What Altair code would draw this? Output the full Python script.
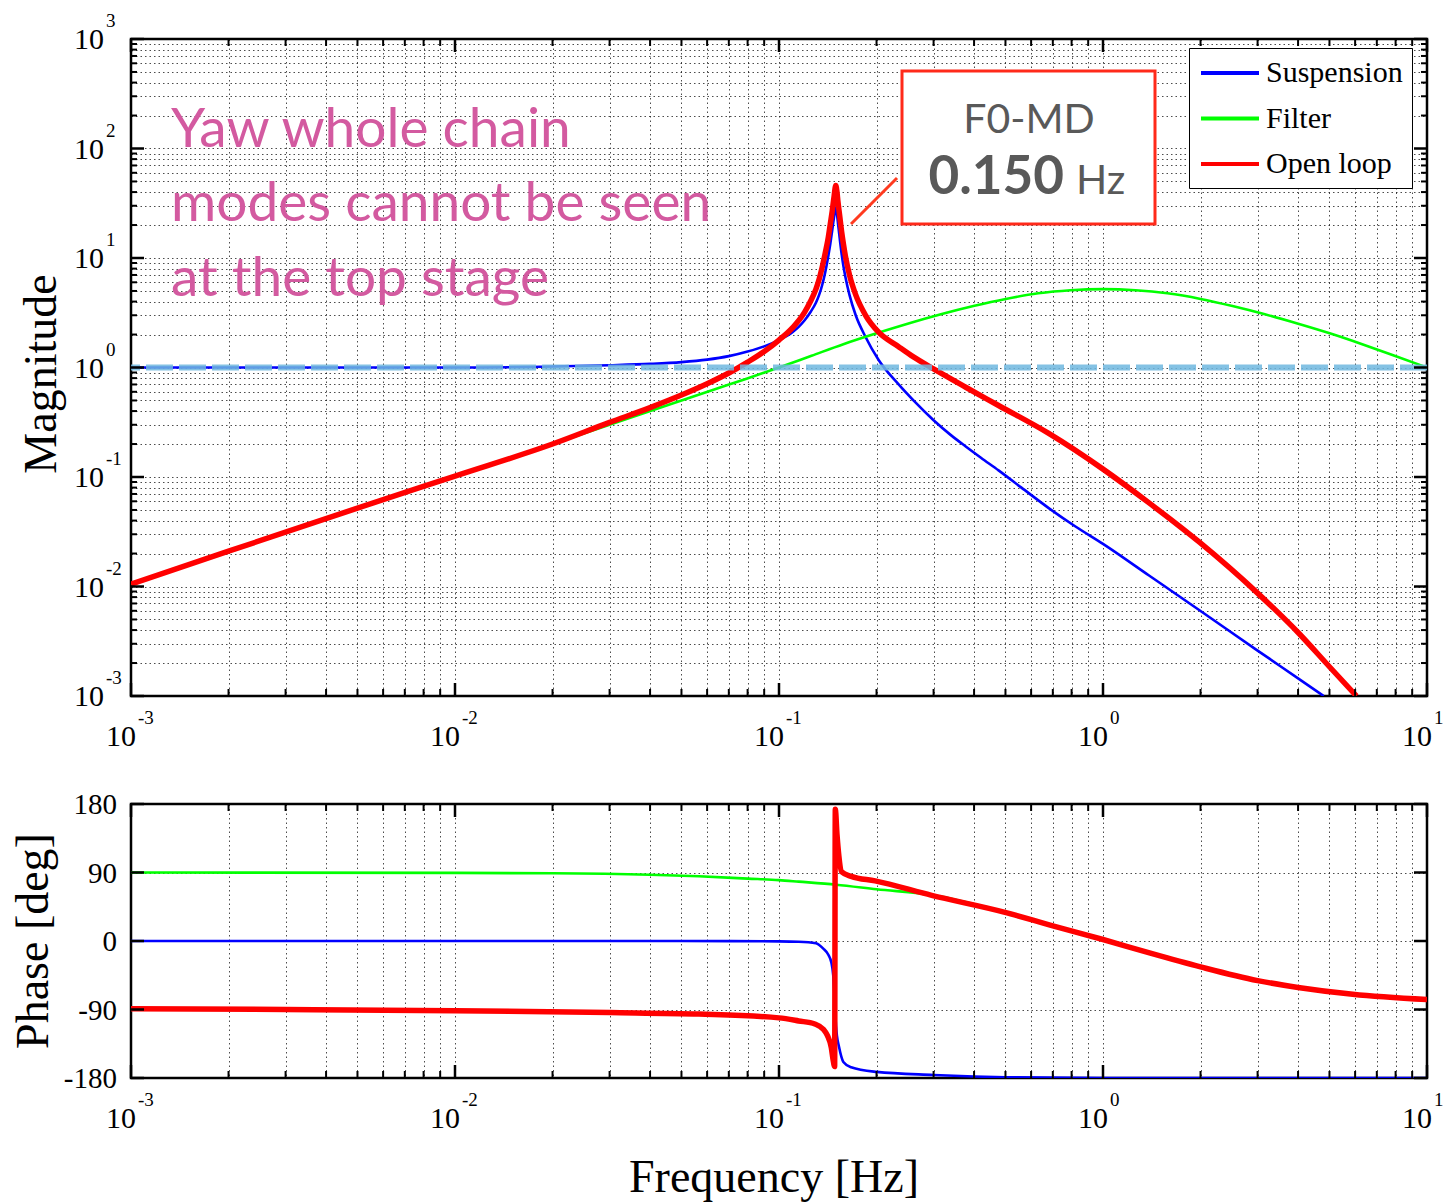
import altair as alt
import pandas as pd

# ---------------- data ----------------
series_order = ["Suspension", "Filter", "Open loop"]
series_colors = ["#0000FF", "#00FF00", "#FF0000"]

# Magnitude
sus_mag_f = [0.001, 0.002, 0.005, 0.01, 0.02, 0.03, 0.04, 0.05, 0.06, 0.07, 0.08, 0.09, 0.10,
             0.11, 0.115, 0.12, 0.125, 0.13, 0.133, 0.136, 0.139, 0.142, 0.144, 0.146, 0.148,
             0.1497, 0.151, 0.152, 0.154, 0.156, 0.158, 0.1605, 0.165, 0.1725, 0.185, 0.203,
             0.234, 0.26, 0.3, 0.34, 0.377, 0.42, 0.476, 0.56, 0.68, 0.82, 1.0, 1.387, 1.98,
             3.0, 4.0, 4.8]
sus_mag = [1.0, 1.0, 1.0, 1.0, 1.02, 1.05, 1.08, 1.12, 1.18, 1.27, 1.40, 1.56, 1.78,
           2.1, 2.35, 2.7, 3.2, 3.9, 4.6, 5.7, 7.5, 10.5, 13.5, 18.0, 24.0,
           29.0, 25.0, 21.0, 15.0, 11.0, 8.5, 6.6, 4.6, 3.0, 1.9, 1.17,
           0.70, 0.50, 0.33, 0.24, 0.19, 0.15, 0.115, 0.08, 0.052, 0.0355, 0.0245, 0.0126, 0.0061,
           0.0026, 0.00145, 0.001]

flt_mag_f = [0.001, 0.002, 0.005, 0.01, 0.02, 0.03, 0.05, 0.0631, 0.0794, 0.1, 0.126, 0.158,
             0.2, 0.251, 0.316, 0.398, 0.501, 0.631, 0.794, 1.0, 1.26, 1.58, 2.0, 2.51, 3.16,
             3.98, 5.01, 6.31, 7.94, 10.0]
flt_mag = [0.0105, 0.021, 0.052, 0.102, 0.2, 0.3, 0.5, 0.63, 0.79, 1.0, 1.28, 1.63,
           2.05, 2.52, 3.06, 3.64, 4.23, 4.76, 5.08, 5.2, 5.08, 4.76, 4.23, 3.64, 3.06,
           2.52, 2.05, 1.63, 1.28, 1.0]

ol_mag_f = [0.001, 0.002, 0.005, 0.01, 0.02, 0.03, 0.04, 0.05, 0.06, 0.07, 0.08, 0.09, 0.1,
            0.11, 0.12, 0.125, 0.13, 0.133, 0.136, 0.139, 0.142, 0.144, 0.146, 0.148, 0.1497,
            0.151, 0.152, 0.154, 0.156, 0.158, 0.1605, 0.165, 0.1725, 0.185, 0.203, 0.234,
            0.26, 0.3, 0.377, 0.476, 0.68, 1.0, 1.387, 1.98, 3.0, 4.0, 5.0, 6.06]
ol_mag = [0.0105, 0.021, 0.052, 0.102, 0.2, 0.315, 0.43, 0.56, 0.71, 0.89, 1.12, 1.40, 1.78,
          2.3, 3.2, 4.0, 5.2, 6.4, 8.3, 11.2, 15.5, 20.5, 27.0, 37.0, 46.0,
          40.0, 33.0, 24.0, 17.5, 13.5, 10.2, 7.0, 4.6, 3.0, 2.1, 1.55,
          1.25, 0.97, 0.66, 0.45, 0.25, 0.118, 0.058, 0.0255, 0.0087, 0.0038, 0.00185, 0.001]

unity = [1.0]

# Phase
sus_ph_f = [0.001, 0.01, 0.05, 0.1, 0.115, 0.13, 0.137, 0.142, 0.145, 0.147, 0.148, 0.149,
            0.150, 0.151, 0.153, 0.158, 0.167, 0.2, 0.3, 0.4, 0.5, 1.0, 10.0]
sus_ph = [0, 0, 0, -0.5, -1, -3, -10, -18, -28, -45, -65, -90,
          -112, -125, -138, -159, -166, -172, -176, -178, -179, -180, -180]

flt_ph_f = [0.001, 0.01, 0.02, 0.04, 0.0566, 0.08, 0.1, 0.115, 0.15, 0.2, 0.3, 0.495, 0.7,
            1.0, 1.4, 2.0, 3.0, 4.0, 5.9, 10.0]
flt_ph = [90, 89.5, 89, 87, 85, 82, 80, 78, 74, 68, 60, 38, 20,
          2, -16, -34, -52, -61, -70, -77]

ol_ph_f = [0.001, 0.003, 0.01, 0.03, 0.0566, 0.1, 0.115, 0.129, 0.137, 0.141, 0.145, 0.147,
           0.1485, 0.1492, 0.151, 0.153, 0.156, 0.167, 0.198, 0.296, 0.495, 0.7, 1.0, 1.4,
           2.0, 3.0, 4.0, 5.9, 10.0]
ol_ph = [-89, -90, -91.5, -94, -96, -101, -105, -109, -116, -124, -140, -157,
         -165, 173, 140, 112, 91, 85, 79, 60, 38, 20, 2, -16,
         -34, -52, -61, -70, -77]

# Tick / label values
x_major = [0.001, 0.01, 0.1, 1.0, 10.0]
x_exp = ["-3", "-2", "-1", "0", "1"]
x_minor = [round(m * 10.0 ** e, 6) for e in range(-3, 1) for m in range(2, 10)]
x_grid = sorted(x_major + x_minor)

y_major = [0.001, 0.01, 0.1, 1.0, 10.0, 100.0, 1000.0]
y_exp = ["-3", "-2", "-1", "0", "1", "2", "3"]
y_minor = [round(m * 10.0 ** e, 6) for e in range(-3, 3) for m in range(2, 10)]
y_grid = sorted(y_major + y_minor)

ph_ticks = [-180, -90, 0, 90, 180]
ph_labels = ["-180", "-90", "0", "90", "180"]

# ---------------- layout constants ----------------
W = 1296
H1 = 657
H2 = 274
SERIF = "Liberation Serif"
SANS = "Lato"

xscale = alt.Scale(type="log", domain=[0.001, 10])
yscale_mag = alt.Scale(type="log", domain=[0.001, 1000])
yscale_ph = alt.Scale(domain=[-180, 180])

xaxis = alt.Axis(values=x_grid, grid=True, labels=False, ticks=False, domain=False, title=None)
yaxis_mag = alt.Axis(values=y_grid, grid=True, labels=False, ticks=False, domain=False, title=None)
yaxis_ph = alt.Axis(values=[-90, 0, 90], grid=True, labels=False, ticks=False, domain=False, title=None)

color_scale = alt.Scale(domain=series_order, range=series_colors)
legend = alt.Legend(title=None, orient="none", legendX=1058, legendY=9,
                    symbolType="M-2,0H2", symbolSize=841, symbolStrokeWidth=4,
                    symbolOffset=16, labelOffset=19.5,
                    labelFont=SERIF, labelFontSize=30, labelColor="black",
                    rowPadding=13.5, padding=8.5, strokeColor="black", fillColor="white")


def X():
    return alt.X("f:Q", scale=xscale, axis=xaxis)


def line_layer(f, v, name, yscale, yaxis, width, leg):
    d = pd.DataFrame({"f": f, "v": v, "series": name})
    return alt.Chart(d).mark_line(strokeWidth=width, clip=True, interpolate="monotone").encode(
        x=X(),
        y=alt.Y("v:Q", scale=yscale, axis=yaxis),
        color=alt.Color("series:N", scale=color_scale, legend=leg),
    )


def x_tick_layers(H):
    out = []
    for vals, ln, sw in [(x_major, 13, 2.5), (x_minor, 7, 2)]:
        b = alt.Chart(pd.DataFrame({"f": vals})).mark_rule(color="black", strokeWidth=sw)
        out.append(b.encode(x=X(), y=alt.value(H), y2=alt.value(H - ln)))
        out.append(b.encode(x=X(), y=alt.value(0), y2=alt.value(ln)))
    return out


def y_tick_layers(groups, yscale, yaxis):
    out = []
    for vals, ln, sw in groups:
        b = alt.Chart(pd.DataFrame({"v": vals})).mark_rule(color="black", strokeWidth=sw)
        y = alt.Y("v:Q", scale=yscale, axis=yaxis)
        out.append(b.encode(y=y, x=alt.value(0), x2=alt.value(ln)))
        out.append(b.encode(y=y, x=alt.value(W), x2=alt.value(W - ln)))
    return out


def x_label_layers(H):
    d = pd.DataFrame({"f": x_major, "e": x_exp})
    base = alt.Chart(d)
    ten = base.mark_text(text="10", align="right", baseline="alphabetic", dx=5,
                         font=SERIF, fontSize=30, color="black").encode(x=X(), y=alt.value(H + 50))
    ex = base.mark_text(align="left", baseline="alphabetic", dx=7,
                        font=SERIF, fontSize=19, color="black").encode(
        x=X(), y=alt.value(H + 28), text="e:N")
    return [ten, ex]


# ---------------- top panel: magnitude ----------------
d_ylab = pd.DataFrame({"v": y_major, "e": y_exp})
ymag = alt.Y("v:Q", scale=yscale_mag, axis=yaxis_mag)
top_layers = [
    line_layer(sus_mag_f, sus_mag, "Suspension", yscale_mag, yaxis_mag, 2.6, legend),
    line_layer(flt_mag_f, flt_mag, "Filter", yscale_mag, yaxis_mag, 2.6, legend),
    line_layer(ol_mag_f, ol_mag, "Open loop", yscale_mag, yaxis_mag, 5.5, legend),
    alt.Chart(pd.DataFrame({"v": unity})).mark_rule(
        color="#6FB7DF", strokeWidth=6, strokeDash=[27, 6], opacity=0.85).encode(y=ymag),
]
top_layers += x_tick_layers(H1)
top_layers += y_tick_layers([(y_major, 13, 2.5), (y_minor, 6, 2)], yscale_mag, yaxis_mag)
top_layers += x_label_layers(H1)
top_layers += [
    alt.Chart(d_ylab).mark_text(text="10", align="right", baseline="middle", dy=1,
                                font=SERIF, fontSize=30, color="black").encode(
        x=alt.value(-27), y=ymag),
    alt.Chart(d_ylab).mark_text(align="left", baseline="alphabetic", dy=-12,
                                font=SERIF, fontSize=19, color="black").encode(
        x=alt.value(-25), y=ymag, text="e:N"),
]
ann = alt.Chart(pd.DataFrame({"k": [0]}))
pink = "#D35AA0"
top_layers += [
    ann.mark_text(text="Magnitude", angle=270, align="center", baseline="alphabetic",
                  font=SERIF, fontSize=46, color="black").encode(x=alt.value(-75), y=alt.value(335)),
    ann.mark_text(text="Yaw whole chain", align="left", baseline="alphabetic", font=SANS,
                  fontSize=55, color=pink).encode(x=alt.value(40), y=alt.value(108)),
    ann.mark_text(text="modes cannot be seen", align="left", baseline="alphabetic", font=SANS,
                  fontSize=55, color=pink).encode(x=alt.value(40), y=alt.value(182)),
    ann.mark_text(text="at the top stage", align="left", baseline="alphabetic", font=SANS,
                  fontSize=55, color=pink).encode(x=alt.value(40), y=alt.value(257)),
    ann.mark_rule(color="#FF3A1F", strokeWidth=3).encode(
        x=alt.value(720), y=alt.value(185), x2=alt.value(766), y2=alt.value(139)),
    ann.mark_rect(fill="white", stroke="#FF2A1A", strokeWidth=3).encode(
        x=alt.value(771), x2=alt.value(1024), y=alt.value(32), y2=alt.value(185)),
    ann.mark_text(text="F0-MD", align="center", baseline="alphabetic", font=SANS,
                  fontSize=41, color="#595959").encode(x=alt.value(898), y=alt.value(94)),
    ann.mark_text(text="0.150", align="right", baseline="alphabetic", font=SANS, fontWeight="bold",
                  fontSize=53, color="#595959").encode(x=alt.value(933), y=alt.value(155)),
    ann.mark_text(text="Hz", align="left", baseline="alphabetic", font=SANS,
                  fontSize=41, color="#595959").encode(x=alt.value(945), y=alt.value(155)),
    # invisible anchor fixing the page origin relative to the plot
    ann.mark_rule(strokeOpacity=0, strokeWidth=1).encode(
        x=alt.value(-129), y=alt.value(-37), x2=alt.value(-128), y2=alt.value(-36)),
]
top = alt.layer(*top_layers).properties(width=W, height=H1)

# ---------------- bottom panel: phase ----------------
yph = alt.Y("v:Q", scale=yscale_ph, axis=yaxis_ph)
bot_layers = [
    line_layer(sus_ph_f, sus_ph, "Suspension", yscale_ph, yaxis_ph, 2.6, None),
    line_layer(flt_ph_f, flt_ph, "Filter", yscale_ph, yaxis_ph, 2.6, None),
    line_layer(ol_ph_f, ol_ph, "Open loop", yscale_ph, yaxis_ph, 5.5, None),
]
bot_layers += x_tick_layers(H2)
bot_layers += y_tick_layers([(ph_ticks, 13, 2.5)], yscale_ph, yaxis_ph)
bot_layers += x_label_layers(H2)
bot_layers += [
    alt.Chart(pd.DataFrame({"v": ph_ticks, "t": ph_labels})).mark_text(
        align="right", baseline="middle", dy=1, font=SERIF, fontSize=29, color="black").encode(
        x=alt.value(-14), y=yph, text="t:N"),
    ann.mark_text(text="Phase [deg]", angle=270, align="center", baseline="alphabetic",
                  font=SERIF, fontSize=46, color="black").encode(x=alt.value(-83), y=alt.value(137)),
    ann.mark_text(text="Frequency [Hz]", align="center", baseline="alphabetic",
                  font=SERIF, fontSize=46, color="black").encode(x=alt.value(643), y=alt.value(388)),
]
bottom = alt.layer(*bot_layers).properties(width=W, height=H2)

chart = alt.vconcat(top, bottom, spacing=108, bounds="flush").resolve_scale(
    color="independent").resolve_legend(color="independent").properties(
    padding=0, background="white").configure_view(
    stroke="black", strokeWidth=2.5).configure_axis(
    gridColor="black", gridDash=[1.5, 3], gridOpacity=0.7, gridWidth=1)

chart.save("out.html", embed_options={"renderer": "svg", "actions": False})
